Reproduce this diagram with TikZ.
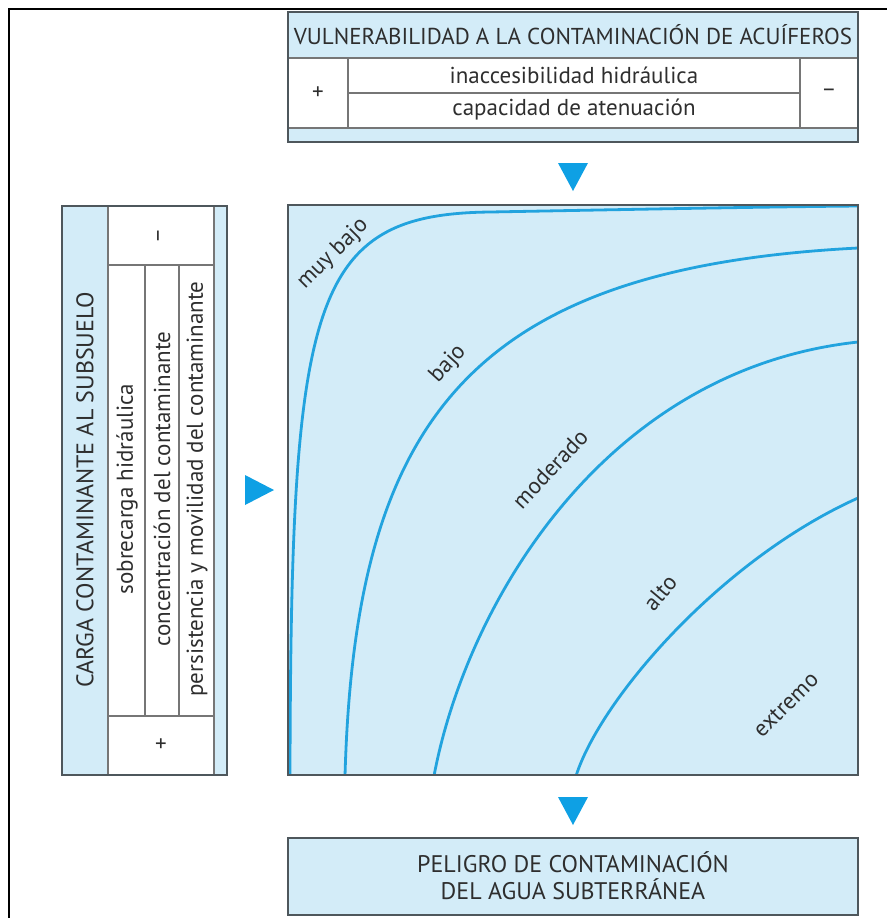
\documentclass[tikz,border=0pt]{standalone}
\usepackage{fontspec}
\setmainfont{PT Sans}
\usepackage{tikz}
\usetikzlibrary{calc}
\usetikzlibrary{positioning}
\definecolor{paleblue}{HTML}{D3ECF8}
\definecolor{curveblue}{HTML}{22A3DE}
\definecolor{arrowblue}{HTML}{0EA0E4}
\definecolor{framegray}{HTML}{4E575C}
\definecolor{rulegray}{HTML}{767676}
\definecolor{inkgray}{HTML}{2E2E2E}

\begin{document}
\begin{tikzpicture}[x=0.5pt,y=-0.5pt,every node/.style = {align=center,inner sep=0pt,text=inkgray},
frame/.style={draw=framegray,line width=1.2pt},
rule/.style={draw=rulegray,line width=0.6pt},
curve/.style={draw=curveblue,line width=1.4pt},
head/.style={font=\fontsize{11.5}{13.5}\selectfont},
bighead/.style={font=\fontsize{12}{13.5}\selectfont},
cell/.style={font=\fontsize{11.5}{13}\selectfont},
zone/.style={font=\fontsize{11.5}{13}\selectfont},
marker/.style={fill=arrowblue}]
\useasboundingbox (0,0) rectangle (887,918);
\draw[line width=1.3pt] (9,918) -- (9,9) -- (887,9);

\fill[paleblue] (288,12) rectangle (858,58);
\fill[paleblue] (288,128) rectangle (858,142);
\draw[rule] (288,58) -- (858,58);
\draw[rule] (288,128) -- (858,128);
\draw[rule] (348,58) -- (348,128);
\draw[rule] (800,58) -- (800,128);
\draw[rule] (348,93) -- (800,93);
\draw[frame] (288,12) rectangle (858,142);
\node[head] (vul) at (573,35) {VULNERABILIDAD A LA CONTAMINACIÓN DE ACUÍFEROS};
\node[cell] (vplus) at (318,93) {+};
\node[cell] (vminus) at (829,93) {–};
\node[cell] (inac) at (574,75) {inaccesibilidad hidráulica};
\node[cell] (aten) at (574,110) {capacidad de atenuación};

\fill[marker] (558,163) -- (588,163) -- (573,191) -- cycle;

\fill[paleblue] (62,206) rectangle (108,775);
\fill[paleblue] (214,206) rectangle (227,775);
\draw[rule] (108,206) -- (108,775);
\draw[rule] (214,206) -- (214,775);
\draw[rule] (108,265) -- (214,265);
\draw[rule] (108,716) -- (214,716);
\draw[rule] (145,265) -- (145,716);
\draw[rule] (179,265) -- (179,716);
\draw[frame] (62,206) rectangle (227,775);
\node[bighead,rotate=90] (carga) at (85,490) {CARGA CONTAMINANTE AL SUBSUELO};
\node[cell,rotate=90] (cminus) at (161,236) {–};
\node[cell] (cplus) at (161,745) {+};
\node[cell,rotate=90] (sobre) at (127,489) {sobrecarga hidráulica};
\node[cell,rotate=90] (conc) at (162,489) {concentración del contaminante};
\node[cell,rotate=90] (pers) at (197,489) {persistencia y movilidad del contaminante};

\fill[marker] (245,475) -- (245,505) -- (274,490) -- cycle;

\fill[paleblue] (288,205) rectangle (858,775);
\begin{scope}
\clip (288,205) rectangle (858,775);
\draw[curve] (290,776) .. controls (291,300) and (310,214) .. (490,212) .. controls (600,210) and (750,207) .. (858,206);
\draw[curve] (345,776) .. controls (355,420) and (470,268) .. (858,248);
\draw[curve] (434,776) .. controls (465,610) and (600,370) .. (858,342);
\draw[curve] (576,776) .. controls (600,700) and (720,560) .. (858,498);
\end{scope}
\draw[frame] (288,205) rectangle (858,775);
\node[zone,rotate=45] (z1) at (333,254) {muy bajo};
\node[zone,rotate=48] (z2) at (448,364) {bajo};
\node[zone,rotate=47] (z3) at (550,469) {moderado};
\node[zone,rotate=50] (z4) at (660,593) {alto};
\node[zone,rotate=45] (z5) at (786,705) {extremo};

\fill[marker] (558,797) -- (588,797) -- (573,825) -- cycle;

\fill[paleblue] (288,838) rectangle (858,915);
\draw[frame] (288,838) rectangle (858,915);
\node[bighead] (pel) at (573,876) {PELIGRO DE CONTAMINACIÓN\\DEL AGUA SUBTERRÁNEA};
\end{tikzpicture}
\end{document}
